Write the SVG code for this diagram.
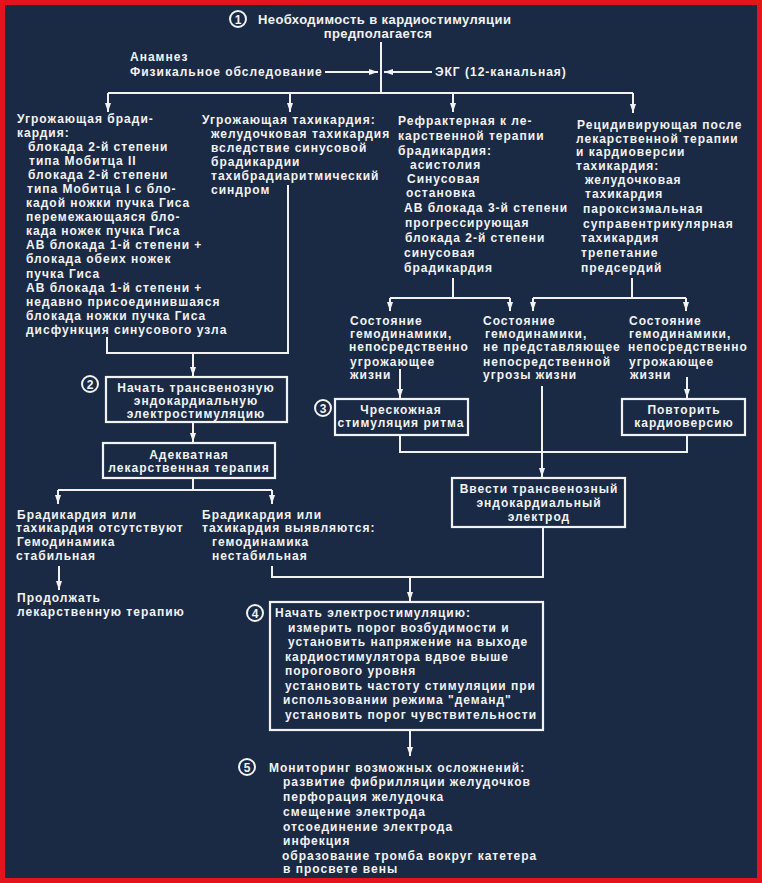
<svg xmlns="http://www.w3.org/2000/svg" width="762" height="883" viewBox="0 0 762 883">
<defs>
<style>
.t{font-family:"Liberation Sans",Arial,sans-serif;font-weight:bold;font-size:12px;fill:#f2f2f2;letter-spacing:1px}
.ti{font-size:13px;letter-spacing:0.4px}
.m{text-anchor:middle}
.ln{fill:none;stroke:#f2f2f2;stroke-width:2}
.bx{fill:none;stroke:#f2f2f2;stroke-width:2.2}
.ci{fill:none;stroke:#f2f2f2;stroke-width:2}
.n{font-family:"Liberation Sans",Arial,sans-serif;font-weight:bold;font-size:12px;fill:#f2f2f2;text-anchor:middle}
</style>
<marker id="ar" markerUnits="userSpaceOnUse" markerWidth="10" markerHeight="8" refX="9" refY="4" orient="auto">
<path d="M0,1 L9,4 L0,7 Z" fill="#f2f2f2"/>
</marker>
</defs>
<rect x="0" y="0" width="762" height="883" fill="#1a2a45"/>
<rect x="2.5" y="2.5" width="757" height="878" fill="none" stroke="#e3141b" stroke-width="5"/>

<g id="connectors">
<path class="ln" d="M381,42 V93"/>
<path class="ln" d="M325,72 H378" marker-end="url(#ar)"/>
<path class="ln" d="M432,72 H384" marker-end="url(#ar)"/>
<path class="ln" d="M108,93 H633"/>
<path class="ln" d="M108,93 V112" marker-end="url(#ar)"/>
<path class="ln" d="M290,93 V112" marker-end="url(#ar)"/>
<path class="ln" d="M453,93 V112" marker-end="url(#ar)"/>
<path class="ln" d="M633,93 V113" marker-end="url(#ar)"/>
<path class="ln" d="M107,337 V353 H288 V185"/>
<path class="ln" d="M193,353 V376" marker-end="url(#ar)"/>
<path class="ln" d="M193,422 V442" marker-end="url(#ar)"/>
<path class="ln" d="M193,478 V490"/>
<path class="ln" d="M58,490 H272"/>
<path class="ln" d="M58,490 V504" marker-end="url(#ar)"/>
<path class="ln" d="M272,490 V504" marker-end="url(#ar)"/>
<path class="ln" d="M59,566 V590" marker-end="url(#ar)"/>
<path class="ln" d="M272,566 V577 H543 V527"/>
<path class="ln" d="M410,577 V601" marker-end="url(#ar)"/>
<path class="ln" d="M410,730 V756" marker-end="url(#ar)"/>
<path class="ln" d="M453,278 V298"/>
<path class="ln" d="M390,298 H510"/>
<path class="ln" d="M390,298 V311" marker-end="url(#ar)"/>
<path class="ln" d="M510,298 V311" marker-end="url(#ar)"/>
<path class="ln" d="M632,278 V298"/>
<path class="ln" d="M533,298 H686"/>
<path class="ln" d="M533,298 V311" marker-end="url(#ar)"/>
<path class="ln" d="M686,298 V311" marker-end="url(#ar)"/>
<path class="ln" d="M400,369 V398" marker-end="url(#ar)"/>
<path class="ln" d="M687,377 V398" marker-end="url(#ar)"/>
<path class="ln" d="M542,386 V477" marker-end="url(#ar)"/>
<path class="ln" d="M400,435 V452 H687 V435"/>
</g>

<g id="start">
<circle class="ci" cx="238" cy="19" r="8"/>
<text class="n" x="238" y="23.5">1</text>
<text class="t ti" x="258" y="24">Необходимость в кардиостимуляции</text>
<text class="t ti m" x="378" y="38">предполагается</text>
</g>

<g id="anamnesis">
<text class="t" x="130" y="61">Анамнез</text>
<text class="t" x="130" y="76">Физикальное обследование</text>
</g>

<g id="ecg">
<text class="t" x="435" y="76">ЭКГ (12-канальная)</text>
</g>

<g id="brady">
<text class="t" x="17" y="123">Угрожающая бради-</text>
<text class="t" x="17" y="137">кардия:</text>
<text class="t" x="28" y="151">блокада 2-й степени</text>
<text class="t" x="29" y="165">типа Мобитца II</text>
<text class="t" x="28" y="179">блокада 2-й степени</text>
<text class="t" x="27" y="193">типа Мобитца I с бло-</text>
<text class="t" x="26" y="207">кадой ножки пучка Гиса</text>
<text class="t" x="26" y="221">перемежающаяся бло-</text>
<text class="t" x="26" y="235">када ножек пучка Гиса</text>
<text class="t" x="26" y="249">АВ блокада 1-й степени +</text>
<text class="t" x="26" y="263">блокада обеих ножек</text>
<text class="t" x="26" y="278">пучка Гиса</text>
<text class="t" x="26" y="292">АВ блокада 1-й степени +</text>
<text class="t" x="26" y="306">недавно присоединившаяся</text>
<text class="t" x="26" y="320">блокада ножки пучка Гиса</text>
<text class="t" x="26" y="334">дисфункция синусового узла</text>
</g>

<g id="tachy">
<text class="t" x="202" y="124">Угрожающая тахикардия:</text>
<text class="t" x="211" y="138">желудочковая тахикардия</text>
<text class="t" x="211" y="152">вследствие синусовой</text>
<text class="t" x="211" y="166">брадикардии</text>
<text class="t" x="211" y="180">тахибрадиаритмический</text>
<text class="t" x="211" y="194">синдром</text>
</g>

<g id="refractory">
<text class="t" x="398" y="125">Рефрактерная к ле-</text>
<text class="t" x="398" y="140">карственной терапии</text>
<text class="t" x="398" y="155">брадикардия:</text>
<text class="t" x="410" y="169">асистолия</text>
<text class="t" x="407" y="183">Синусовая</text>
<text class="t" x="406" y="197">остановка</text>
<text class="t" x="404" y="212">АВ блокада 3-й степени</text>
<text class="t" x="405" y="227">прогрессирующая</text>
<text class="t" x="405" y="242">блокада 2-й степени</text>
<text class="t" x="404" y="257">синусовая</text>
<text class="t" x="404" y="272">брадикардия</text>
</g>

<g id="recurrent">
<text class="t" x="577" y="129">Рецидивирующая после</text>
<text class="t" x="576" y="143">лекарственной терапии</text>
<text class="t" x="576" y="156">и кардиоверсии</text>
<text class="t" x="576" y="170">тахикардия:</text>
<text class="t" x="585" y="184">желудочковая</text>
<text class="t" x="585" y="198">тахикардия</text>
<text class="t" x="583" y="213">пароксизмальная</text>
<text class="t" x="583" y="228">суправентрикулярная</text>
<text class="t" x="581" y="242">тахикардия</text>
<text class="t" x="581" y="257">трепетание</text>
<text class="t" x="581" y="272">предсердий</text>
</g>

<g id="hemo-a">
<text class="t" x="350" y="325">Состояние</text>
<text class="t" x="350" y="338">гемодинамики,</text>
<text class="t" x="349" y="351">непосредственно</text>
<text class="t" x="350" y="366">угрожающее</text>
<text class="t" x="350" y="379">жизни</text>
</g>

<g id="hemo-b">
<text class="t" x="483" y="325">Состояние</text>
<text class="t" x="485" y="338">гемодинамики,</text>
<text class="t" x="483" y="351">не представляющее</text>
<text class="t" x="483" y="366">непосредственной</text>
<text class="t" x="483" y="379">угрозы жизни</text>
</g>

<g id="hemo-c">
<text class="t" x="629" y="325">Состояние</text>
<text class="t" x="629" y="338">гемодинамики,</text>
<text class="t" x="628" y="351">непосредственно</text>
<text class="t" x="629" y="366">угрожающее</text>
<text class="t" x="630" y="379">жизни</text>
</g>

<g id="transcutaneous">
<circle class="ci" cx="323" cy="408" r="8"/>
<text class="n" x="323" y="412.5">3</text>
<rect class="bx" x="335" y="399" width="133" height="36"/>
<text class="t m" x="401" y="414">Чрескожная</text>
<text class="t m" x="401" y="427">стимуляция ритма</text>
</g>

<g id="cardioversion">
<rect class="bx" x="622" y="399" width="123" height="36"/>
<text class="t m" x="684" y="414">Повторить</text>
<text class="t m" x="684" y="427">кардиоверсию</text>
</g>

<g id="electrode">
<rect class="bx" x="452" y="478" width="173" height="49"/>
<text class="t m" x="539" y="493">Ввести трансвенозный</text>
<text class="t m" x="539" y="507">эндокардиальный</text>
<text class="t m" x="539" y="521">электрод</text>
</g>

<g id="transvenous">
<circle class="ci" cx="90" cy="384" r="8"/>
<text class="n" x="90" y="388.5">2</text>
<rect class="bx" x="106" y="377" width="181" height="45"/>
<text class="t m" x="196" y="392">Начать трансвенозную</text>
<text class="t m" x="196" y="405">эндокардиальную</text>
<text class="t m" x="196" y="418">электростимуляцию</text>
</g>

<g id="drug">
<rect class="bx" x="103" y="443" width="172" height="35"/>
<text class="t m" x="189" y="459">Адекватная</text>
<text class="t m" x="189" y="472">лекарственная терапия</text>
</g>

<g id="stable">
<text class="t" x="17" y="519">Брадикардия или</text>
<text class="t" x="16" y="532">тахикардия отсутствуют</text>
<text class="t" x="17" y="546">Гемодинамика</text>
<text class="t" x="16" y="560">стабильная</text>
</g>

<g id="continue">
<text class="t" x="17" y="602">Продолжать</text>
<text class="t" x="17" y="616">лекарственную терапию</text>
</g>

<g id="unstable">
<text class="t" x="202" y="519">Брадикардия или</text>
<text class="t" x="202" y="532">тахикардия выявляются:</text>
<text class="t" x="212" y="546">гемодинамика</text>
<text class="t" x="212" y="560">нестабильная</text>
</g>

<g id="pacing">
<circle class="ci" cx="255" cy="613" r="8"/>
<text class="n" x="255" y="617.5">4</text>
<rect class="bx" x="270" y="602" width="273" height="128"/>
<text class="t" x="275" y="617">Начать электростимуляцию:</text>
<text class="t" x="288" y="632">измерить порог возбудимости и</text>
<text class="t" x="288" y="646">установить напряжение на выходе</text>
<text class="t" x="285" y="661">кардиостимулятора вдвое выше</text>
<text class="t" x="285" y="675">порогового уровня</text>
<text class="t" x="285" y="690">установить частоту стимуляции при</text>
<text class="t" x="283" y="704">использовании режима "деманд"</text>
<text class="t" x="285" y="719">установить порог чувствительности</text>
</g>

<g id="monitoring">
<circle class="ci" cx="247" cy="767" r="8"/>
<text class="n" x="247" y="771.5">5</text>
<text class="t" x="269" y="772">Мониторинг возможных осложнений:</text>
<text class="t" x="283" y="786">развитие фибрилляции желудочков</text>
<text class="t" x="283" y="801">перфорация желудочка</text>
<text class="t" x="283" y="816">смещение электрода</text>
<text class="t" x="283" y="831">отсоединение электрода</text>
<text class="t" x="283" y="845">инфекция</text>
<text class="t" x="282" y="860">образование тромба вокруг катетера</text>
<text class="t" x="283" y="873">в просвете вены</text>
</g>
</svg>
